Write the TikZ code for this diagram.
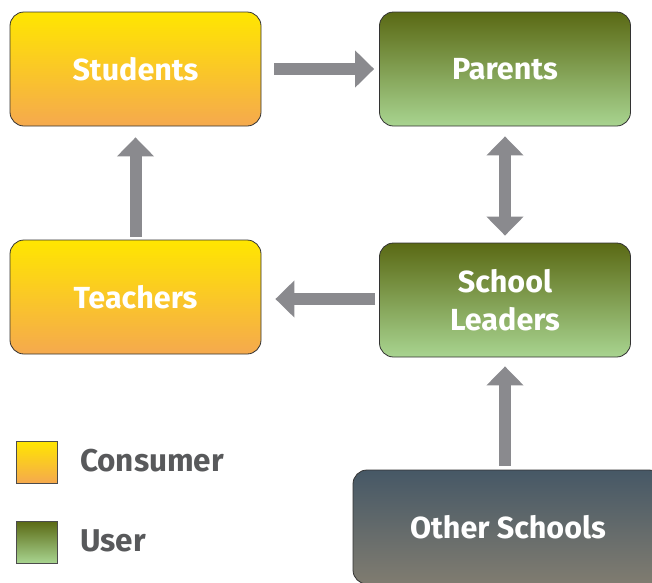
\documentclass[tikz,border=0pt]{standalone}
\usepackage{fontspec}
\setmainfont{Fira Sans}
\usetikzlibrary{arrows.meta}
\definecolor{yellowtop}{HTML}{FFE600}
\definecolor{orangebot}{HTML}{F5A94E}
\definecolor{greentop}{HTML}{5A6914}
\definecolor{greenbot}{HTML}{A8D490}
\definecolor{slatetop}{HTML}{465866}
\definecolor{slatebot}{HTML}{807C70}
\definecolor{arrowgray}{HTML}{8A8A8E}
\definecolor{legendtext}{HTML}{58595B}
\tikzset{
  role/.style = {draw = black!80, line width = 0.8pt, rounded corners = 14pt,
                 minimum width = 251pt, minimum height = 114pt, align = center,
                 text = white, font = \fontsize{30.5}{38}\selectfont\bfseries},
  consumer/.style = {role, top color = yellowtop, bottom color = orangebot},
  user/.style = {role, top color = greentop, bottom color = greenbot},
  outside/.style = {role, top color = slatetop, bottom color = slatebot},
  flow/.style = {draw = arrowgray, line width = 12pt,
                 -{Triangle[width = 36pt, length = 19pt]}},
  swatch/.style = {draw = black!70, line width = 0.8pt,
                   minimum width = 41pt, minimum height = 42pt},
  keytext/.style = {anchor = west, text = legendtext,
                    font = \fontsize{31.5}{38}\selectfont\bfseries}
}
\begin{document}
\begin{tikzpicture}[x = 1pt, y = -1pt]
		      \clip (0,0) rectangle (652,582);

		      \node [consumer] (students) at (135.5,69)  {Students};
		      \node [user]     (parents)  at (505,69)    {Parents};
		      \node [consumer] (teachers) at (135.5,297) {Teachers};
		      \node [user]     (leaders)  at (505,300)   {School\\Leaders};
		      \node [outside, minimum width = 310pt] (others) at (508,527) {Other Schools};

		      \draw [flow, shorten < = 13pt, shorten > = 5pt] (students) -- (parents);
		      \draw [flow, shorten < = 3pt, shorten > = 11pt] (teachers) -- (students);
		      \draw [flow, {Triangle[width = 36pt, length = 19pt]}-{Triangle[width = 36pt, length = 19pt]},
		             shorten < = 10pt, shorten > = 7pt] (parents) -- (leaders);
		      \draw [flow, shorten < = 4pt, shorten > = 14pt]
		            (leaders.west |- 0,299) -- (teachers.east |- 0,299);
		      \draw [flow, shorten < = 4pt, shorten > = 9pt]
		            (others.north -| leaders) -- (leaders.south);

		      % legend
		      \node [swatch, top color = yellowtop, bottom color = orangebot] (conskey) at (36.5,462) {};
		      \node [swatch, top color = greentop, bottom color = greenbot]   (userkey) at (36.5,542) {};
		      \node [keytext] (conslabel) at (76.5,461) {Consumer};
		      \node [keytext] (userlabel) at (76.5,541) {User};

		      \end{tikzpicture}
\end{document}
